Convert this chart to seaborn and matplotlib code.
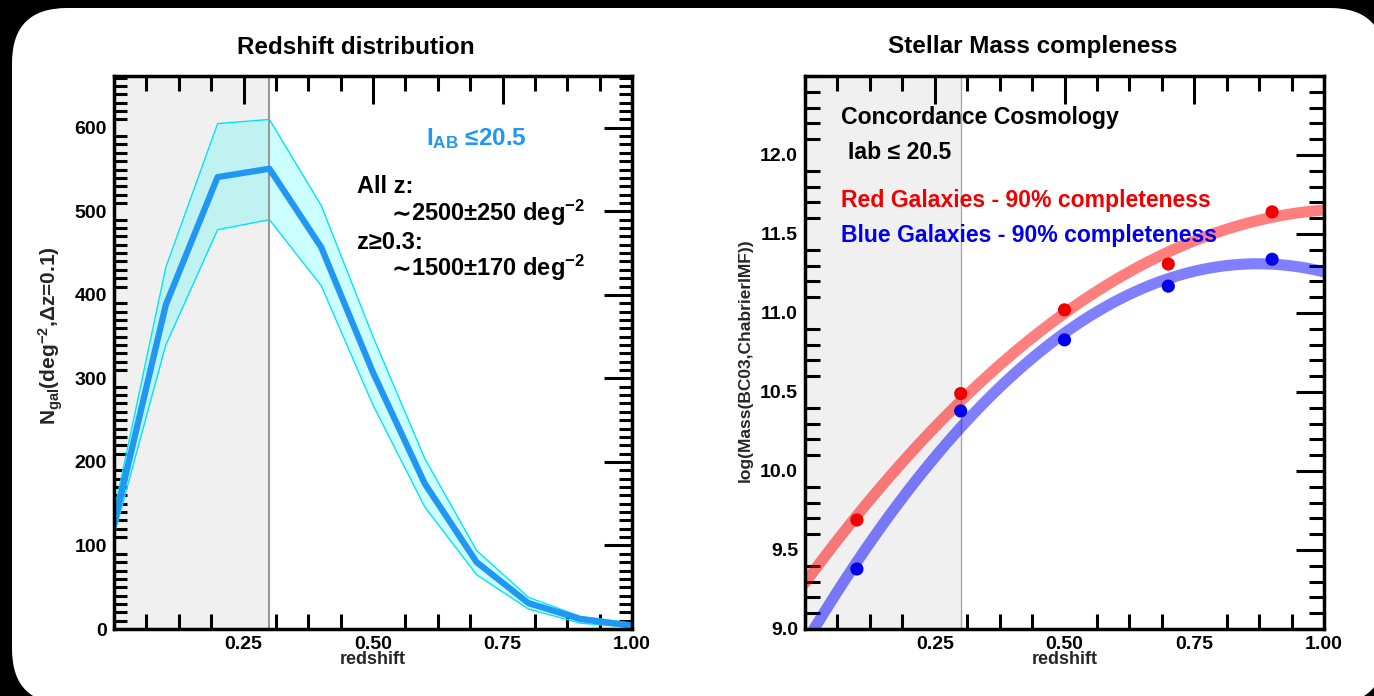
import numpy as np
import pandas as pd
import matplotlib
matplotlib.use("Agg")
import matplotlib.pyplot as plt
import matplotlib.transforms as mtransforms
from matplotlib.patches import FancyBboxPatch
from matplotlib.ticker import MultipleLocator, FixedLocator, FormatStrFormatter
import seaborn as sns

# ---------------- data ----------------
# Left panel: redshift distribution
z_bins = [0.0, 0.1, 0.2, 0.3, 0.4, 0.5, 0.6, 0.7, 0.8, 0.9, 1.0]
n_gal = [125, 388, 541, 551, 457, 307, 174, 80, 31, 12, 4]
n_gal_hi = [140, 433, 605, 610, 507, 350, 204, 94, 38, 15, 7]
n_gal_lo = [112, 340, 478, 490, 411, 268, 146, 65, 24, 7, 2]

# Right panel: stellar mass completeness
z_mass = [0.1, 0.3, 0.5, 0.7, 0.9]
mass_red = [9.69, 10.49, 11.02, 11.31, 11.64]
mass_blue = [9.38, 10.38, 10.83, 11.17, 11.34]

# ticks
x_major = [0.25, 0.50, 0.75, 1.00]
left_y_major = [0, 100, 200, 300, 400, 500, 600]
right_y_major = [9.0, 9.5, 10.0, 10.5, 11.0, 11.5, 12.0]

# ---------------- style ----------------
sns.set_theme(style="white")
plt.rcParams["font.family"] = ["Liberation Sans", "DejaVu Sans"]
plt.rcParams["font.weight"] = "bold"
plt.rcParams["axes.labelweight"] = "bold"
plt.rcParams["mathtext.fontset"] = "custom"
plt.rcParams["mathtext.rm"] = "Liberation Sans:bold"
plt.rcParams["mathtext.bf"] = "Liberation Sans:bold"
plt.rcParams["mathtext.it"] = "Liberation Sans:bold"
plt.rcParams["mathtext.sf"] = "Liberation Sans:bold"

W, H = 1374, 696
fig = plt.figure(figsize=(W / 100, H / 100), dpi=100, facecolor="black")

bg = FancyBboxPatch((12, -8), 1373, 696, boxstyle="round,pad=0,rounding_size=55",
                    transform=mtransforms.IdentityTransform(),
                    facecolor="white", edgecolor="none", zorder=-10)
fig.add_artist(bg)

ax1 = fig.add_axes([114 / W, (H - 629) / H, 518 / W, 553 / H])
ax2 = fig.add_axes([805 / W, (H - 629) / H, 519 / W, 553 / H])


def style_axes(ax, y_minor_len):
    for s in ax.spines.values():
        s.set_color("black")
        s.set_linewidth(2.5)
        s.set_zorder(10)
    ax.set_facecolor("white")
    ax.tick_params(which="major", direction="in", length=20, width=2.2,
                   top=True, right=True, color="black", labelsize=14, pad=5,
                   labelcolor="black")
    ax.tick_params(axis="x", which="minor", direction="in", length=11, width=2.2,
                   top=True, bottom=True, color="black")
    ax.tick_params(axis="y", which="minor", direction="in", length=y_minor_len,
                   width=2.2, left=True, right=True, color="black")
    ax.xaxis.set_major_locator(FixedLocator(x_major))
    ax.xaxis.set_minor_locator(MultipleLocator(0.0625))
    ax.xaxis.set_major_formatter(FormatStrFormatter("%.2f"))
    ax.set_xlim(0, 1)


def sim_text(ax, x, x_rest, y, rest, size):
    ax.text(x, y, "\u223c", transform=ax.transAxes, family="DejaVu Sans",
            weight="bold", fontsize=size, va="baseline", ha="left", color="black")
    ax.text(x_rest, y, rest, transform=ax.transAxes, fontsize=size,
            va="baseline", ha="left", color="black")


# ---------------- left panel ----------------
ax1.axvspan(0, 0.3, color="#f0f0f0", zorder=0, lw=0)
ax1.fill_between(z_bins, n_gal_lo, n_gal_hi, color="cyan", alpha=0.2, lw=0, zorder=1)
sns.lineplot(x=z_bins, y=n_gal_hi, color="#00e6f2", lw=1.0, ax=ax1, zorder=2)
sns.lineplot(x=z_bins, y=n_gal_lo, color="#00e6f2", lw=1.0, ax=ax1, zorder=2)
ax1.axvline(0.3, color="#999999", lw=1.5, zorder=3)
sns.lineplot(x=z_bins, y=n_gal, color="#2196f3", lw=4.5, ax=ax1, zorder=4)

style_axes(ax1, 9.5)
ax1.yaxis.set_major_locator(FixedLocator(left_y_major))
ax1.yaxis.set_minor_locator(MultipleLocator(10))
ax1.set_ylim(0, 662)
ax1.set_xlim(0, 1)

ax1.set_xlabel("redshift", fontsize=13, va="center")
ax1.xaxis.set_label_coords(0.5, (629 - 660) / 553)
ax1.set_ylabel("N$_{\\rm gal}$(deg$^{-2}$,\u0394z=0.1)", fontsize=15, va="center")
ax1.yaxis.set_label_coords((51 - 114) / 518, (629 - 336) / 553)

ax1.text(0.603, 0.875, "I$_{\\rm AB}$ \u226420.5", transform=ax1.transAxes,
         color="#2196f3", fontsize=17.5, va="baseline", ha="left")
ax1.text(0.469, 0.789, "All z:", transform=ax1.transAxes, fontsize=17,
         va="baseline", ha="left", color="black")
sim_text(ax1, 0.536, 0.574, 0.738, "2500\u00b1250 deg$^{-2}$", 17)
ax1.text(0.469, 0.688, "z\u22650.3:", transform=ax1.transAxes, fontsize=17,
         va="baseline", ha="left", color="black")
sim_text(ax1, 0.536, 0.574, 0.638, "1500\u00b1170 deg$^{-2}$", 17)

# ---------------- right panel ----------------
ax2.axvspan(0, 0.3, color="#f0f0f0", zorder=0, lw=0)
ax2.axvline(0.3, color="#aaaaaa", lw=1.0, zorder=1)
ax2.set_xlim(0, 1)
sns.regplot(x=z_mass, y=mass_red, order=2, ci=None, scatter=False, truncate=False,
            line_kws=dict(color="red", alpha=0.5, lw=8, zorder=2), ax=ax2)
sns.regplot(x=z_mass, y=mass_blue, order=2, ci=None, scatter=False, truncate=False,
            line_kws=dict(color="blue", alpha=0.5, lw=8, zorder=2), ax=ax2)
sns.scatterplot(x=z_mass, y=mass_red, color="#f00000", s=90, edgecolor="none",
                ax=ax2, zorder=5)
sns.scatterplot(x=z_mass, y=mass_blue, color="#0000ee", s=90, edgecolor="none",
                ax=ax2, zorder=5)

style_axes(ax2, 11)
ax2.yaxis.set_major_locator(FixedLocator(right_y_major))
ax2.yaxis.set_minor_locator(MultipleLocator(0.1))
ax2.yaxis.set_major_formatter(FormatStrFormatter("%.1f"))
ax2.set_ylim(9.0, 12.5)
ax2.set_xlim(0, 1)

ax2.set_xlabel("redshift", fontsize=13, va="center")
ax2.xaxis.set_label_coords(0.5, (629 - 660) / 553)
ax2.set_ylabel("log(Mass(BC03,ChabrierIMF))", fontsize=12.5, va="center")
ax2.yaxis.set_label_coords((745 - 805) / 519, (629 - 360) / 553)

ax2.text(0.069, 0.913, "Concordance Cosmology", transform=ax2.transAxes,
         fontsize=16.6, va="baseline", ha="left", color="black")
ax2.text(0.083, 0.850, "Iab \u2264 20.5", transform=ax2.transAxes,
         fontsize=16.6, va="baseline", ha="left", color="black")
ax2.text(0.069, 0.764, "Red Galaxies - 90% completeness", transform=ax2.transAxes,
         fontsize=16.6, va="baseline", ha="left", color="#f00000")
ax2.text(0.069, 0.700, "Blue Galaxies - 90% completeness", transform=ax2.transAxes,
         fontsize=16.6, va="baseline", ha="left", color="#0000ee")

# titles
fig.text(356 / W, 1 - 47 / H, "Redshift distribution", ha="center", va="center",
         fontsize=17.5, weight="bold", color="black")
fig.text(1033 / W, 1 - 47 / H, "Stellar Mass compleness", ha="center", va="center",
         fontsize=17.5, weight="bold", color="black")

fig.savefig("out.png", dpi=100, facecolor="black")
